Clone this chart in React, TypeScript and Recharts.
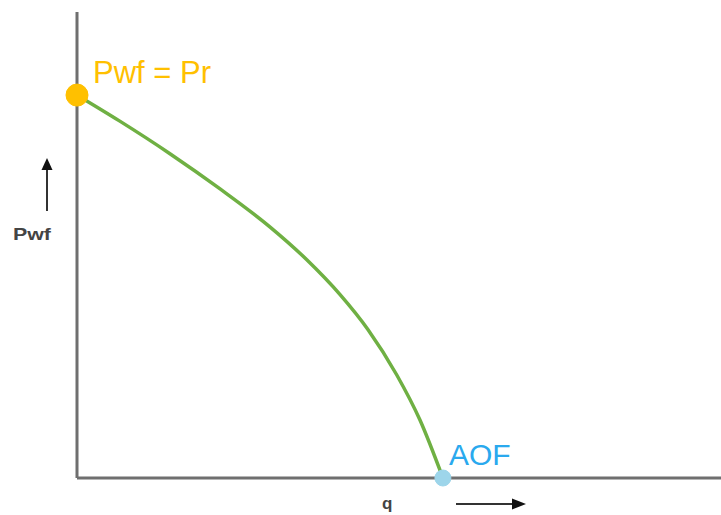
import React from "react";
import { LineChart, Line, XAxis, YAxis, ReferenceDot } from "recharts";

// normalized rate q/AOF and pressure Pwf/Pr
const qValues = [0, 0.117, 0.254, 0.391, 0.527, 0.628, 0.719, 0.795, 0.874, 0.937, 1.0];
const pwfValues = [1.0, 0.932, 0.847, 0.755, 0.656, 0.57, 0.479, 0.388, 0.269, 0.152, 0];
const startLabel = "Pwf = Pr";
const endLabel = "AOF";
const yLabel = "Pwf";
const xLabel = "q";

const data = qValues.map((q, i) => ({ q, p: pwfValues[i] }));

const W = 721;
const H = 515;

export default function App() {
  return (
    <div style={{ position: "absolute", left: 0, top: 0, width: W, height: H, background: "#fff" }}>
      <LineChart
        width={W}
        height={H}
        data={data}
        margin={{ top: 12, right: 0, bottom: 0, left: 0 }}
      >
        <XAxis
          dataKey="q"
          type="number"
          domain={[0, 1.76]}
          height={37}
          tick={false}
          tickLine={false}
          axisLine={{ stroke: "#6f6f6f", strokeWidth: 3 }}
        />
        <YAxis
          type="number"
          domain={[0, 1.217]}
          width={77}
          tick={false}
          tickLine={false}
          axisLine={{ stroke: "#6f6f6f", strokeWidth: 3 }}
        />
        <Line
          dataKey="p"
          type="monotone"
          stroke="#6fb043"
          strokeWidth={3.5}
          dot={false}
          activeDot={false}
          isAnimationActive={false}
        />
        <ReferenceDot
          x={qValues[0]}
          y={pwfValues[0]}
          r={11}
          fill="#ffc000"
          stroke="#ffc000"
          ifOverflow="visible"
          label={(props: any) => {
            const vb = props.viewBox || {};
            const cx = (vb.x ?? 0) + (vb.width ?? 0) / 2;
            const cy = (vb.y ?? 0) + (vb.height ?? 0) / 2;
            return (
              <text
                x={cx + 16}
                y={cy - 12}
                fill="#ffc000"
                fontSize={31}
                fontFamily="Liberation Sans, Arial, sans-serif"
              >
                {startLabel}
              </text>
            );
          }}
        />
        <ReferenceDot
          x={qValues[qValues.length - 1]}
          y={pwfValues[pwfValues.length - 1]}
          r={8}
          fill="#9dd5ea"
          stroke="#9dd5ea"
          ifOverflow="visible"
          label={(props: any) => {
            const vb = props.viewBox || {};
            const cx = (vb.x ?? 0) + (vb.width ?? 0) / 2;
            const cy = (vb.y ?? 0) + (vb.height ?? 0) / 2;
            return (
              <text
                x={cx + 6}
                y={cy - 13}
                fill="#2aa9ee"
                fontSize={30}
                fontFamily="Liberation Sans, Arial, sans-serif"
              >
                {endLabel}
              </text>
            );
          }}
        />
      </LineChart>
      <svg
        width={W}
        height={H}
        style={{ position: "absolute", left: 0, top: 0, pointerEvents: "none" }}
      >
        <line x1={47} y1={211} x2={47} y2={168} stroke="#333" strokeWidth={2} />
        <polygon points="47,158 41.5,170 52.5,170" fill="#111" />
        <text
          x={13}
          y={240}
          fontSize={17}
          fontWeight="bold"
          fill="#444"
          fontFamily="Liberation Sans, Arial, sans-serif"
          textLength={38}
          lengthAdjust="spacingAndGlyphs"
        >
          {yLabel}
        </text>
        <line x1={456} y1={504} x2={514} y2={504} stroke="#333" strokeWidth={2} />
        <polygon points="526,504 512,498.5 512,509.5" fill="#111" />
        <text
          x={382}
          y={509}
          fontSize={17}
          fontWeight="bold"
          fill="#444"
          fontFamily="Liberation Sans, Arial, sans-serif"
        >
          {xLabel}
        </text>
      </svg>
    </div>
  );
}
